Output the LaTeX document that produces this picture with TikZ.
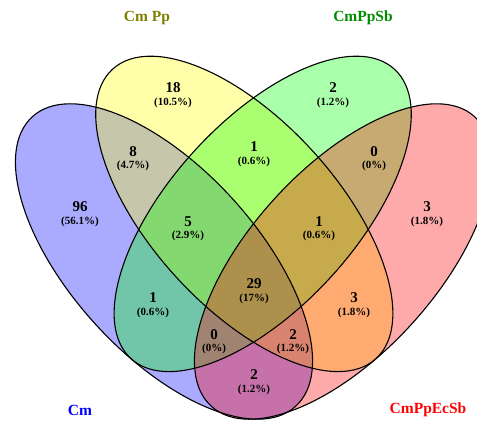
\documentclass[tikz,border=0pt]{standalone}
\usepackage{fontspec}
\setmainfont{Liberation Serif}
\usetikzlibrary{positioning}
\definecolor{setblue}{RGB}{0,0,255}
\definecolor{setyellow}{RGB}{255,255,0}
\definecolor{setgreen}{RGB}{0,255,0}
\definecolor{setred}{RGB}{255,0,0}
\definecolor{catolive}{RGB}{128,128,0}
\definecolor{catgreen}{RGB}{0,140,0}
\definecolor{catblue}{RGB}{0,0,255}
\definecolor{catred}{RGB}{255,0,0}

\begin{document}
\begin{tikzpicture}[x=1pt, y=-1pt,
  setfill/.style={fill opacity=0.333},
  setline/.style={draw=black, line width=1.1pt},
  num/.style={font=\fontsize{15}{17}\selectfont\bfseries, inner sep=0pt},
  pct/.style={font=\fontsize{11}{13}\selectfont\bfseries, inner sep=0pt},
  cat/.style={font=\fontsize{15.5}{18}\selectfont\bfseries, inner sep=0pt}
]
\useasboundingbox (0,0) rectangle (477,421);
% centres of the four sets
\coordinate (cA) at (164,261.5);
\coordinate (cB) at (244.3,213.9);
\coordinate (cC) at (262.7,213.9);
\coordinate (cD) at (343,261.5);
% fills
\fill[setblue, setfill, rotate around={-47.7:(cA)}] (cA) ellipse [x radius=195.7, y radius=92.9];
\fill[setyellow, setfill, rotate around={-47.7:(cB)}] (cB) ellipse [x radius=195.7, y radius=92.9];
\fill[setgreen, setfill, rotate around={47.7:(cC)}] (cC) ellipse [x radius=195.7, y radius=92.9];
\fill[setred, setfill, rotate around={47.7:(cD)}] (cD) ellipse [x radius=195.7, y radius=92.9];
% outlines
\draw[setline, rotate around={-47.7:(cA)}] (cA) ellipse [x radius=195.7, y radius=92.9];
\draw[setline, rotate around={-47.7:(cB)}] (cB) ellipse [x radius=195.7, y radius=92.9];
\draw[setline, rotate around={47.7:(cC)}] (cC) ellipse [x radius=195.7, y radius=92.9];
\draw[setline, rotate around={47.7:(cD)}] (cD) ellipse [x radius=195.7, y radius=92.9];

% counts
\node[num] (nA) at (80,207) {96};
\node[pct] (pA) at (80,222) {(56.1\%)};
\node[num] (nB) at (173,88) {18};
\node[pct] (pB) at (173,103) {(10.5\%)};
\node[num] (nC) at (333,88) {2};
\node[pct] (pC) at (333,103) {(1.2\%)};
\node[num] (nD) at (427,207) {3};
\node[pct] (pD) at (427,222) {(1.8\%)};
\node[num] (nAB) at (133,152) {8};
\node[pct] (pAB) at (133,166) {(4.7\%)};
\node[num] (nBC) at (254,147) {1};
\node[pct] (pBC) at (254,162) {(0.6\%)};
\node[num] (nCD) at (374,152) {0};
\node[pct] (pCD) at (374,166) {(0\%)};
\node[num] (nABC) at (188,222) {5};
\node[pct] (pABC) at (188,236) {(2.9\%)};
\node[num] (nBCD) at (319,222) {1};
\node[pct] (pBCD) at (319,236) {(0.6\%)};
\node[num] (nABCD) at (254,284) {29};
\node[pct] (pABCD) at (254,299) {(17\%)};
\node[num] (nAC) at (153,298) {1};
\node[pct] (pAC) at (153,313) {(0.6\%)};
\node[num] (nBD) at (354,298) {3};
\node[pct] (pBD) at (354,313) {(1.8\%)};
\node[num] (nACD) at (214,335) {0};
\node[pct] (pACD) at (214,349) {(0\%)};
\node[num] (nABD) at (293,335) {2};
\node[pct] (pABD) at (293,349) {(1.2\%)};
\node[num] (nAD) at (254,375) {2};
\node[pct] (pAD) at (254,390) {(1.2\%)};

% set names
\node[cat, text=catolive] (tB) at (147,18) {Cm Pp};
\node[cat, text=catgreen] (tC) at (363,18) {CmPpSb};
\node[cat, text=catblue] (tA) at (80,410) {Cm};
\node[cat, text=catred] (tD) at (428,410) {CmPpEcSb};
\end{tikzpicture}
\end{document}
